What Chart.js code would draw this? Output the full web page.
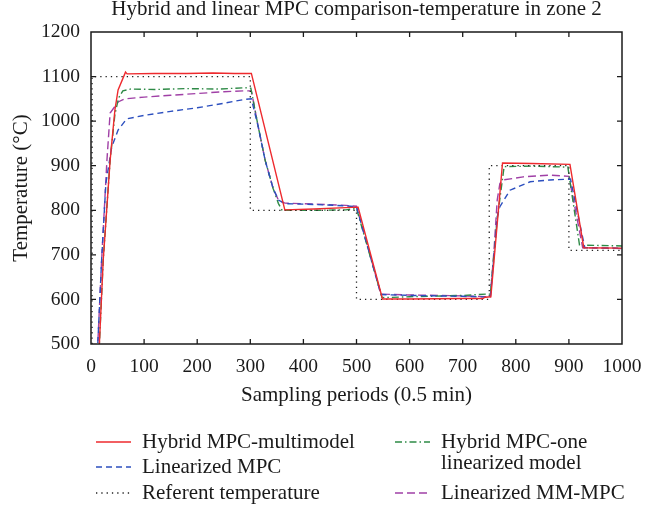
<!DOCTYPE html>
<html>
<head>
<meta charset="utf-8">
<script src="https://cdn.jsdelivr.net/npm/chart.js@4.4.1/dist/chart.umd.min.js"></script>
<style>
  html, body { margin: 0; padding: 0; background: #fff; }
</style>
</head>
<body>
<canvas id="chart" width="658" height="506"></canvas>
<script>
// sampling periods (x) and zone-2 temperatures (y)
const hybridMmX = [15, 23, 36, 45, 51, 65, 68, 120, 180, 230, 270, 302, 365, 420, 480, 503, 549, 600, 700, 738, 742, 753, 775, 830, 902, 928, 1000];
const hybridMmY = [480, 688, 912, 1025, 1070, 1110, 1106, 1107, 1107, 1108, 1107, 1107, 801, 803, 806, 807, 601, 601, 602, 602, 605, 606, 906, 905, 903, 716, 715];

const linMpcX = [12, 20, 28, 39, 51, 67, 100, 150, 200, 250, 290, 302, 315, 328, 343, 353, 365, 420, 480, 500, 546, 600, 700, 752, 760, 765, 770, 789, 827, 864, 903, 930, 1000];
const linMpcY = [480, 688, 860, 942, 980, 1005, 1013, 1022, 1030, 1040, 1049, 1050, 987, 912, 849, 823, 815, 813, 810, 808, 611, 609, 607, 605, 711, 785, 808, 845, 864, 868, 870, 716, 715];

const refX = [2, 2, 300, 300, 500, 500, 750, 750, 900, 900, 1000];
const refY = [500, 1100, 1100, 800, 800, 600, 600, 900, 900, 710, 710];

const hybridOneX = [15, 23, 36, 45, 52, 60, 75, 120, 180, 240, 290, 301, 315, 328, 343, 353, 360, 420, 480, 500, 548, 600, 700, 745, 752, 765, 778, 830, 898, 920, 1000];
const hybridOneY = [480, 688, 912, 1015, 1052, 1068, 1072, 1071, 1073, 1072, 1075, 1074, 987, 912, 849, 815, 800, 800, 801, 804, 604, 606, 609, 612, 612, 780, 898, 899, 897, 722, 720];

const linMmX = [12, 20, 30, 36, 51, 63, 100, 150, 200, 250, 290, 302, 315, 328, 343, 353, 365, 420, 480, 500, 546, 600, 700, 752, 759, 765, 770, 776, 814, 864, 900, 926, 1000];
const linMmY = [480, 688, 912, 1018, 1043, 1050, 1054, 1058, 1062, 1066, 1068, 1068, 987, 912, 849, 823, 816, 814, 811, 809, 612, 610, 608, 606, 711, 823, 860, 868, 875, 879, 876, 716, 714];

const chartTitle = 'Hybrid and linear MPC comparison-temperature in zone 2';

const FONT = "'Liberation Serif', 'Times New Roman', serif";
const INK = '#1a1a1a';

function pts(xs, ys) {
  return xs.map((x, i) => ({ x: x, y: ys[i] }));
}

// legend slots: line start x, row y, optional second text line
const legendSlots = [
  { x: 96, y: 442 },
  { x: 96, y: 467 },
  { x: 96, y: 493 },
  { x: 395, y: 442, second: 'linearized model' },
  { x: 395, y: 493 }
];

const frame = {
  id: 'frame',
  afterDatasetsDraw(chart) {
    const { ctx, chartArea: a, scales } = chart;
    ctx.save();
    ctx.strokeStyle = INK;
    ctx.lineWidth = 1.5;
    ctx.strokeRect(a.left, a.top, a.right - a.left, a.bottom - a.top);
    ctx.lineWidth = 1.3;
    ctx.beginPath();
    scales.x.ticks.forEach(t => {
      const px = scales.x.getPixelForValue(t.value);
      if (px <= a.left + 1 || px >= a.right - 1) return;
      ctx.moveTo(px, a.bottom); ctx.lineTo(px, a.bottom - 5);
      ctx.moveTo(px, a.top); ctx.lineTo(px, a.top + 5);
    });
    scales.y.ticks.forEach(t => {
      const py = scales.y.getPixelForValue(t.value);
      if (py <= a.top + 1 || py >= a.bottom - 1) return;
      ctx.moveTo(a.left, py); ctx.lineTo(a.left + 5, py);
      ctx.moveTo(a.right, py); ctx.lineTo(a.right - 5, py);
    });
    ctx.stroke();
    ctx.restore();
  },
  afterDraw(chart) {
    const { ctx, chartArea: a } = chart;
    ctx.save();
    ctx.fillStyle = INK;
    // title centred over the plot box
    ctx.font = '21px ' + FONT;
    ctx.textAlign = 'center';
    ctx.textBaseline = 'alphabetic';
    ctx.fillText(chartTitle, (a.left + a.right) / 2, 15);

    ctx.textAlign = 'left';
    ctx.textBaseline = 'middle';
    chart.data.datasets.forEach((ds, i) => {
      const s = legendSlots[i];
      ctx.strokeStyle = ds.borderColor;
      ctx.lineWidth = ds.borderWidth;
      ctx.setLineDash(ds.borderDash || []);
      ctx.beginPath();
      ctx.moveTo(s.x, s.y);
      ctx.lineTo(s.x + 35, s.y);
      ctx.stroke();
      ctx.setLineDash([]);
      ctx.fillText(ds.label, s.x + 46, s.y);
      if (s.second) ctx.fillText(s.second, s.x + 46, s.y + 21);
    });
    ctx.restore();
  }
};

const plain = v => String(v);

new Chart(document.getElementById('chart'), {
  type: 'line',
  data: {
    datasets: [
      { label: 'Hybrid MPC-multimodel', data: pts(hybridMmX, hybridMmY), borderColor: '#ee2a2e', borderWidth: 1.4 },
      { label: 'Linearized MPC', data: pts(linMpcX, linMpcY), borderColor: '#2c4fbf', borderWidth: 1.4, borderDash: [6, 4] },
      { label: 'Referent temperature', data: pts(refX, refY), borderColor: '#222', borderWidth: 1.3, borderDash: [1.3, 4] },
      { label: 'Hybrid MPC-one', data: pts(hybridOneX, hybridOneY), borderColor: '#2e8a46', borderWidth: 1.4, borderDash: [7, 3, 1.5, 3] },
      { label: 'Linearized MM-MPC', data: pts(linMmX, linMmY), borderColor: '#a040a6', borderWidth: 1.4, borderDash: [8, 4] }
    ]
  },
  options: {
    responsive: false,
    animation: false,
    layout: { padding: { left: 0, right: 36, top: 32, bottom: 100 } },
    elements: { point: { radius: 0 }, line: { tension: 0, fill: false } },
    plugins: {
      legend: { display: false },
      tooltip: { enabled: false },
      title: { display: false }
    },
    scales: {
      x: {
        type: 'linear', min: 0, max: 1000,
        ticks: { stepSize: 100, color: INK, font: { family: FONT, size: 19.5 }, padding: 11, maxRotation: 0, callback: plain },
        grid: { display: false, drawTicks: false },
        border: { display: false },
        title: { display: true, text: 'Sampling periods (0.5 min)', color: INK, font: { family: FONT, size: 21, lineHeight: 1 }, padding: { top: 0, bottom: 0 } },
        afterFit(s) { s.height = 62; }
      },
      y: {
        type: 'linear', min: 500, max: 1200,
        ticks: { stepSize: 100, color: INK, font: { family: FONT, size: 19.5 }, padding: 11, callback: plain },
        grid: { display: false, drawTicks: false },
        border: { display: false },
        title: { display: true, text: 'Temperature (°C)', color: INK, font: { family: FONT, size: 21, lineHeight: 1 }, padding: { top: 11, bottom: 0 } },
        afterFit(s) { s.width = 91; }
      }
    }
  },
  plugins: [frame]
});
</script>
</body>
</html>
